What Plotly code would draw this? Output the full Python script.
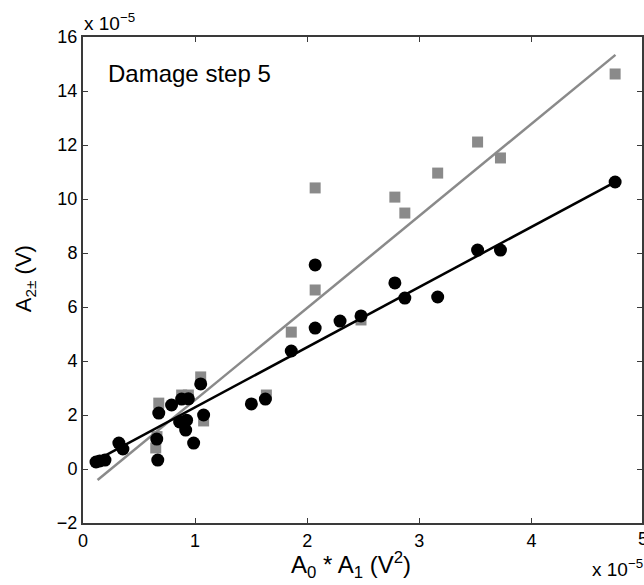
import numpy as np
import plotly.graph_objects as go

# A0*A1 (x 1e-5 V^2) versus A2± (x 1e-5 V)
circle_x = [0.116, 0.15, 0.196, 0.32, 0.356, 0.667, 0.658, 0.676, 0.79, 0.88, 0.94,
            1.05, 1.076, 0.862, 0.924, 0.916, 0.987, 1.502, 1.627, 1.858, 2.071,
            2.071, 2.293, 2.48, 2.782, 2.871, 3.164, 3.52, 3.724, 4.747]
circle_y = [0.26, 0.3, 0.33, 0.96, 0.74, 0.33, 1.11, 2.07, 2.37, 2.59, 2.6,
            3.15, 2.0, 1.74, 1.81, 1.44, 0.96, 2.41, 2.59, 4.37, 5.22,
            7.56, 5.48, 5.67, 6.89, 6.33, 6.37, 8.11, 8.11, 10.63]

square_x = [0.676, 0.649, 0.66, 0.88, 0.94, 1.05, 1.076, 1.636, 1.858, 2.071,
            2.071, 2.48, 2.782, 2.871, 3.164, 3.52, 3.724, 4.747]
square_y = [2.44, 0.78, 1.2, 2.74, 2.74, 3.41, 1.78, 2.74, 5.07, 6.63,
            10.41, 5.52, 10.07, 9.48, 10.96, 12.11, 11.52, 14.63]

# Linear fits (slope, intercept) and the x span they are drawn over
fit_black = (2.228, 0.054)
fit_gray = (3.409, -0.854)
fit_span = [0.13, 4.75]

x_ticks = [0, 1, 2, 3, 4]
y_ticks = [-2, 0, 2, 4, 6, 8, 10, 12, 14, 16]

FONT = "Liberation Sans, Arial, Helvetica, sans-serif"
AXIS_COLOR = "#3a3a3a"

# plot area in pixels: x 83..644 (0..~4.99), y 37..523 (16..-2)
PX_PER_X = 112.5
L, T, B = 83, 37, 523
W, H = 644 - L, B - T

def px(xp):
    return (xp - L) / W

def py(yp):
    return (B - yp) / H

fx = np.array(fit_span)

fig = go.Figure()
fig.add_trace(go.Scatter(
    x=square_x, y=square_y, mode="markers",
    marker=dict(symbol="square", size=11, color="#8a8a8a", line=dict(width=0)),
    showlegend=False))
fig.add_trace(go.Scatter(
    x=fx, y=fit_gray[0] * fx + fit_gray[1], mode="lines",
    line=dict(color="#8a8a8a", width=2.5), showlegend=False))
fig.add_trace(go.Scatter(
    x=circle_x, y=circle_y, mode="markers",
    marker=dict(symbol="circle", size=13, color="black", line=dict(width=0)),
    showlegend=False))
fig.add_trace(go.Scatter(
    x=fx, y=fit_black[0] * fx + fit_black[1], mode="lines",
    line=dict(color="black", width=2.5), showlegend=False))

axis_common = dict(
    showgrid=False, zeroline=False, showline=True, linecolor=AXIS_COLOR,
    linewidth=2, mirror="ticks", ticks="inside", ticklen=5, tickwidth=1,
    tickcolor=AXIS_COLOR, tickfont=dict(family=FONT, size=18, color="black"),
)

fig.update_xaxes(range=[0, W / PX_PER_X], tickvals=x_ticks,
                 ticktext=[str(v) for v in x_ticks], **axis_common)
fig.update_yaxes(range=[-2, 16], tickvals=y_ticks,
                 ticktext=[str(v) if v >= 0 else "\u2212" + str(-v) for v in y_ticks],
                 **axis_common)

fig.update_layout(
    width=644, height=585, autosize=False,
    margin=dict(l=L, r=0, t=T, b=585 - B),
    paper_bgcolor="white", plot_bgcolor="white",
    font=dict(family=FONT, color="black"),
    annotations=[
        dict(text="Damage step 5", xref="paper", yref="paper",
             x=px(106), y=py(73), xanchor="left", yanchor="middle",
             showarrow=False, font=dict(size=24)),
        dict(text="x 10<sup>\u22125</sup>", xref="paper", yref="paper",
             x=px(82), y=py(22), xanchor="left", yanchor="middle",
             showarrow=False, font=dict(size=19)),
        dict(text="x 10<sup>\u22125</sup>", xref="paper", yref="paper",
             x=px(592), y=py(568), xanchor="left", yanchor="middle",
             showarrow=False, font=dict(size=19)),
        dict(text="5", xref="paper", yref="paper", x=px(L + 5 * PX_PER_X),
             y=py(539), xanchor="center", yanchor="middle", showarrow=False,
             font=dict(size=18)),
        dict(text="A<sub>0</sub> * A<sub>1</sub> (V<sup>2</sup>)", xref="paper",
             yref="paper", x=px(352), y=py(565),
             xanchor="center", yanchor="middle", showarrow=False,
             font=dict(size=24)),
        dict(text="A<sub>2\u00b1</sub> (V)", xref="paper", yref="paper",
             x=px(25), y=py(279), xanchor="center",
             yanchor="middle", textangle=-90, showarrow=False,
             font=dict(size=22)),
    ],
)

fig.write_html("out.html")
